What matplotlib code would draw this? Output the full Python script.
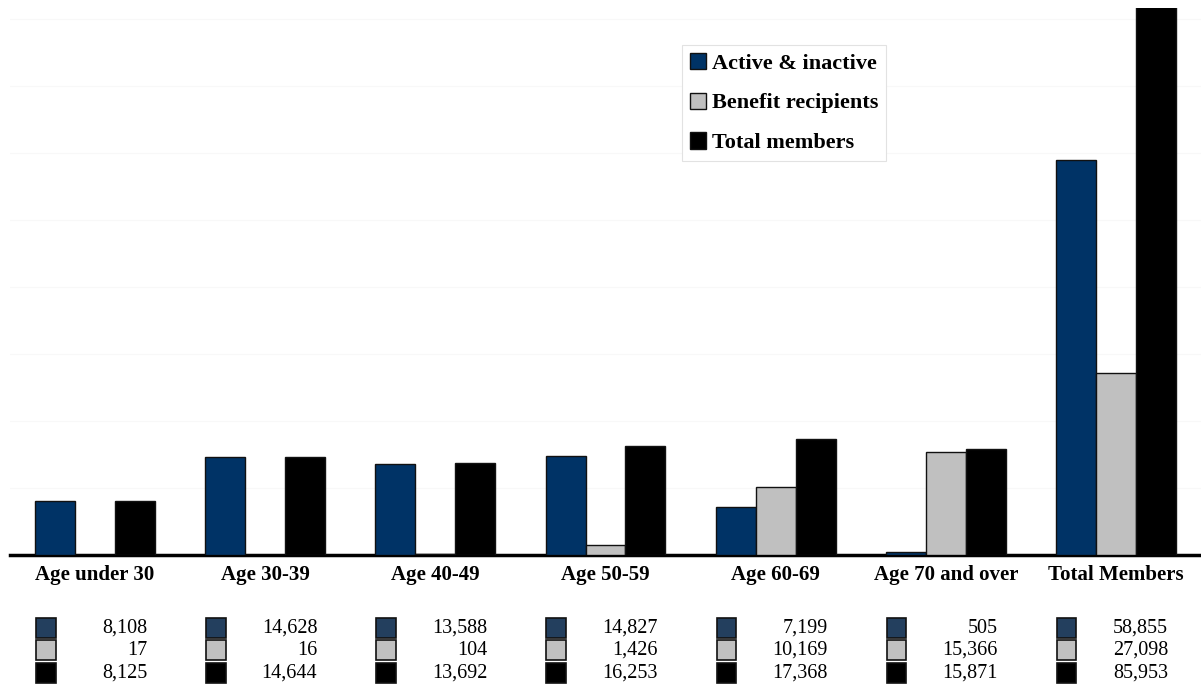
import numpy as np
import matplotlib.pyplot as plt
from matplotlib.patches import Rectangle
from matplotlib.transforms import blended_transform_factory

# data
groups = ['Age under 30', 'Age 30-39', 'Age 40-49', 'Age 50-59',
          'Age 60-69', 'Age 70 and over', 'Total Members']
active = [8108, 14628, 13588, 14827, 7199, 505, 58855]
benefit = [17, 16, 104, 1426, 10169, 15366, 27098]
total = [8125, 14644, 13692, 16253, 17368, 15871, 85953]
series_names = ['Active & inactive', 'Benefit recipients', 'Total members']
colors = ['#003366', '#c0c0c0', '#000000']
table_colors = ['#233f5e', '#c0c0c0', '#000000']

plt.rcParams['font.family'] = ['Liberation Serif', 'DejaVu Serif']

fig = plt.figure(figsize=(12.01, 6.87), dpi=100)
ax = fig.add_axes([10 / 1201, 1 - 555 / 687, 1 - 10 / 1201, 547 / 687])

x = np.arange(len(groups))
w = 0.235
all_series = [active, benefit, total]
for i, (vals, c) in enumerate(zip(all_series, colors)):
    ax.bar(x + (i - 1) * w, vals, width=w, color=c, edgecolor='#111111',
           linewidth=1.0, label=series_names[i], zorder=3)

ax.set_xlim(-0.5, len(groups) - 0.5)
ax.set_ylim(0, 81600)
ax.set_yticks(np.arange(10000, 80001, 10000))
ax.yaxis.grid(True, color='#f8f8f8', linewidth=0.8, zorder=0)
ax.set_xticks([])
ax.tick_params(left=False, labelleft=False)
for s in ['top', 'right', 'left']:
    ax.spines[s].set_visible(False)
ax.spines['bottom'].set_linewidth(2.5)
ax.spines['bottom'].set_color('black')

trans = blended_transform_factory(ax.transData, ax.transAxes)

# category labels
for xi, g in zip(x, groups):
    ax.text(xi, -0.037, g, transform=trans, ha='center', va='center',
            fontsize=15, fontweight='bold', clip_on=False)

# data table under the chart
row_y = [-0.1335, -0.1737, -0.2157]
sq_w = 0.115
sq_h = 0.035
for r, (vals, c) in enumerate(zip(all_series, table_colors)):
    for xi, v in zip(x, vals):
        ax.add_patch(Rectangle((xi - 0.347, row_y[r] - sq_h / 2), sq_w, sq_h,
                               transform=trans, facecolor=c,
                               edgecolor='#111111', linewidth=1.2,
                               clip_on=False))
        ax.text(xi + 0.306, row_y[r], f'{v:,}', transform=trans,
                ha='right', va='center', fontsize=14.5, clip_on=False)

leg = ax.legend(loc='upper left', bbox_to_anchor=((682 - 10) / 1191, 1 - (45 - 8) / 547),
                borderaxespad=0, prop={'weight': 'bold', 'size': 16},
                handlelength=0.75, handleheight=0.75, handletextpad=0.25,
                labelspacing=0.85, borderpad=0.35, fancybox=False,
                framealpha=1)
leg.get_frame().set_edgecolor('#e2e2e2')
leg.get_frame().set_linewidth(0.8)

plt.savefig('out.png', dpi=100)
